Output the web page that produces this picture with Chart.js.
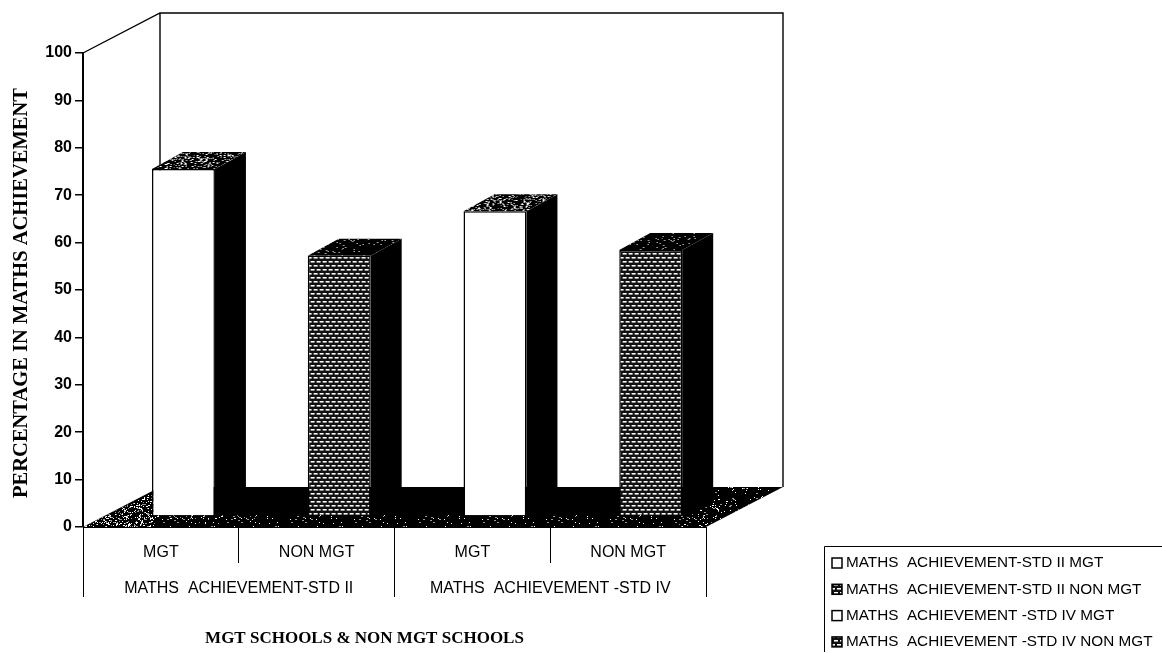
<!DOCTYPE html>
<html>
<head>
<meta charset="utf-8">
<title>Maths achievement</title>
<script src="https://cdn.jsdelivr.net/npm/chart.js@4"></script>
<style>
  html, body { margin: 0; background: #fff; }
  canvas { display: block; }
</style>
</head>
<body>
<canvas id="chart" width="1162" height="653"></canvas>
<script>
const schoolTypes = ['MGT', 'NON MGT', 'MGT', 'NON MGT'];
const achievementGroups = ['MATHS  ACHIEVEMENT-STD II', 'MATHS  ACHIEVEMENT -STD IV'];
const percentages = [73.2, 54.9, 64.3, 56.1];
const legendLabels = [
  'MATHS  ACHIEVEMENT-STD II MGT',
  'MATHS  ACHIEVEMENT-STD II NON MGT',
  'MATHS  ACHIEVEMENT -STD IV MGT',
  'MATHS  ACHIEVEMENT -STD IV NON MGT'
];
const yTitle = 'PERCENTAGE IN MATHS ACHIEVEMENT';
const xTitle = 'MGT SCHOOLS & NON MGT SCHOOLS';

const ctx = document.getElementById('chart').getContext('2d');

// box depth of the plot, and how far bars sit inside it
const WALL = { x: 77, y: -40 };
const INSET = { x: 22.6, y: -11 };
const BAR_DEPTH = { x: 31, y: -17 };

function tile(draw, w, h) {
  const c = document.createElement('canvas');
  c.width = w; c.height = h;
  draw(c.getContext('2d'));
  return ctx.createPattern(c, 'repeat');
}

// dark screen used on the NON MGT bars: staggered rows of light dashes
const screen = tile(g => {
  g.fillStyle = '#111'; g.fillRect(0, 0, 6, 8);
  g.fillStyle = '#fff';
  g.fillRect(0, 0, 4, 1);
  g.fillRect(3, 4, 4, 1);
  g.fillRect(-3, 4, 4, 1);
  g.fillStyle = '#999';
  g.fillRect(0, 1, 4, 1);
  g.fillRect(3, 5, 4, 1);
  g.fillRect(-3, 5, 4, 1);
}, 6, 8);

// grain on black faces, fixed so every draw gives the same result
function grain(density) {
  return tile(g => {
    for (let x = 0; x < 64; x++) {
      for (let y = 0; y < 64; y++) {
        const h = (x * x * 73 + y * y * 151 + x * y * 17 + x * 3) % 97;
        if (h < density) {
          g.fillStyle = h % 3 ? '#fff' : '#999';
          g.fillRect(x, y, h % 5 ? 1 : 2, 1);
        }
      }
    }
  }, 64, 64);
}
const grainHeavy = grain(20);
const grainMid = grain(7);
const grainLight = grain(3);

function poly(g, pts, fill) {
  g.beginPath();
  pts.forEach((p, i) => i ? g.lineTo(p[0], p[1]) : g.moveTo(p[0], p[1]));
  g.closePath();
  g.fillStyle = fill;
  g.fill();
}

const box3d = {
  id: 'box3d',
  beforeDatasetsDraw(chart) {
    const g = chart.ctx;
    const { left, right, top, bottom } = chart.chartArea;
    const bx = left + WALL.x, rx = right + WALL.x;
    const ty = top + WALL.y, by = bottom + WALL.y;

    // floor
    const floor = [[left, bottom], [bx, by], [rx, by], [right, bottom]];
    poly(g, floor, '#000');
    g.save();
    g.beginPath();
    floor.forEach((p, i) => i ? g.lineTo(p[0], p[1]) : g.moveTo(p[0], p[1]));
    g.closePath();
    g.clip();
    poly(g, [[left, bottom], [left + 72, bottom - 36], [left + 72, bottom]], grainHeavy);
    poly(g, [[left + 72, bottom - 12], [right, bottom - 12], [right, bottom], [left + 72, bottom]], grainLight);
    poly(g, [[left + 72, bottom - 12], [left + 172, bottom - 12], [left + 172, bottom - 3], [left + 72, bottom - 3]], grainMid);
    poly(g, [[right - 40, bottom], [right, bottom - 20], [right + 10, bottom - 28], [right + 30, bottom - 28], [right + 5, bottom]], grainMid);
    poly(g, [[right, by], [rx, by], [right, bottom]], grainLight);
    g.restore();

    // back and side walls
    g.strokeStyle = '#000';
    g.lineWidth = 1.4;
    g.beginPath();
    g.moveTo(left, top);
    g.lineTo(bx, ty);
    g.lineTo(rx, ty);
    g.lineTo(rx, by);
    g.moveTo(bx, ty);
    g.lineTo(bx, by);
    g.stroke();

    g.save();
    g.translate(INSET.x, INSET.y);
  },
  afterDatasetsDraw(chart) {
    const g = chart.ctx;
    // side and top faces of each bar, taken from the bar elements
    chart.getDatasetMeta(0).data.forEach((bar, i) => {
      const l = bar.x - bar.width / 2, r = bar.x + bar.width / 2;
      const dx = BAR_DEPTH.x, dy = BAR_DEPTH.y;
      const side = [[r, bar.y], [r + dx, bar.y + dy], [r + dx, bar.base + dy], [r, bar.base]];
      const cap = [[l, bar.y], [l + dx, bar.y + dy], [r + dx, bar.y + dy], [r, bar.y]];
      poly(g, side, '#000');
      poly(g, cap, '#000');
      poly(g, cap, i % 2 ? grainLight : grainHeavy);
    });
    g.restore();

    // axis titles
    const { left, right } = chart.chartArea;
    g.save();
    g.fillStyle = '#000';
    g.textAlign = 'center';
    g.textBaseline = 'middle';
    g.font = 'bold 17px "Liberation Serif"';
    g.fillText(xTitle, (left + right) / 2 - 30, 639);
    g.translate(21.5, 293);
    g.rotate(-Math.PI / 2);
    g.font = 'bold 20.5px "Liberation Serif"';
    g.fillText(yTitle, 0, 0);
    g.restore();

    // legend box, open on the right and bottom
    g.save();
    g.strokeStyle = '#000';
    g.lineWidth = 1;
    g.beginPath();
    g.moveTo(824.5, 652);
    g.lineTo(824.5, 546.5);
    g.lineTo(1162, 546.5);
    g.stroke();
    g.font = '15.3px "Liberation Sans"';
    g.textBaseline = 'middle';
    legendLabels.forEach((label, i) => {
      const y = 563 + i * 26.3;
      g.fillStyle = i % 2 ? screen : '#fff';
      g.fillRect(832, y - 5, 10, 10);
      g.strokeStyle = '#000';
      g.lineWidth = 1.5;
      g.strokeRect(832, y - 5, 10, 10);
      g.fillStyle = '#000';
      g.fillText(label, 846, y);
    });
    g.restore();
  }
};

new Chart(ctx, {
  type: 'bar',
  data: {
    labels: schoolTypes,
    datasets: [{
      data: percentages,
      backgroundColor: ['#fff', screen, '#fff', screen],
      borderColor: '#000',
      borderWidth: 1.5,
      barPercentage: 0.404,
      categoryPercentage: 1,
      clip: false
    }]
  },
  plugins: [box3d],
  options: {
    responsive: false,
    animation: false,
    events: [],
    layout: { padding: { top: 53, right: 456, left: 0, bottom: 0 } },
    plugins: { legend: { display: false }, tooltip: { enabled: false } },
    scales: {
      x: {
        weight: 1,
        offset: true,
        afterFit: s => { s.height = 36; },
        grid: { offset: true, drawOnChartArea: false, tickLength: 36, color: '#000' },
        border: { color: '#000', width: 1 },
        ticks: {
          color: '#000', padding: -20, autoSkip: false, maxRotation: 0,
          font: { family: '"Liberation Sans"', size: 16 }
        }
      },
      x2: {
        type: 'category',
        position: 'bottom',
        weight: 2,
        labels: achievementGroups,
        offset: true,
        afterFit: s => { s.height = 90; },
        grid: { offset: true, drawOnChartArea: false, tickLength: 34, color: '#000' },
        border: { display: false },
        ticks: {
          color: '#000', padding: -18, autoSkip: false, maxRotation: 0,
          font: { family: '"Liberation Sans"', size: 16 }
        }
      },
      y: {
        min: 0,
        max: 100,
        afterFit: s => { s.width = 83; },
        grid: { drawOnChartArea: false, tickLength: 8, color: '#000', lineWidth: 1.5 },
        border: { color: '#000', width: 2 },
        ticks: {
          stepSize: 10, color: '#000', padding: 3,
          font: { family: '"Liberation Sans"', size: 16, weight: 'bold' }
        }
      }
    }
  }
});
</script>
</body>
</html>
